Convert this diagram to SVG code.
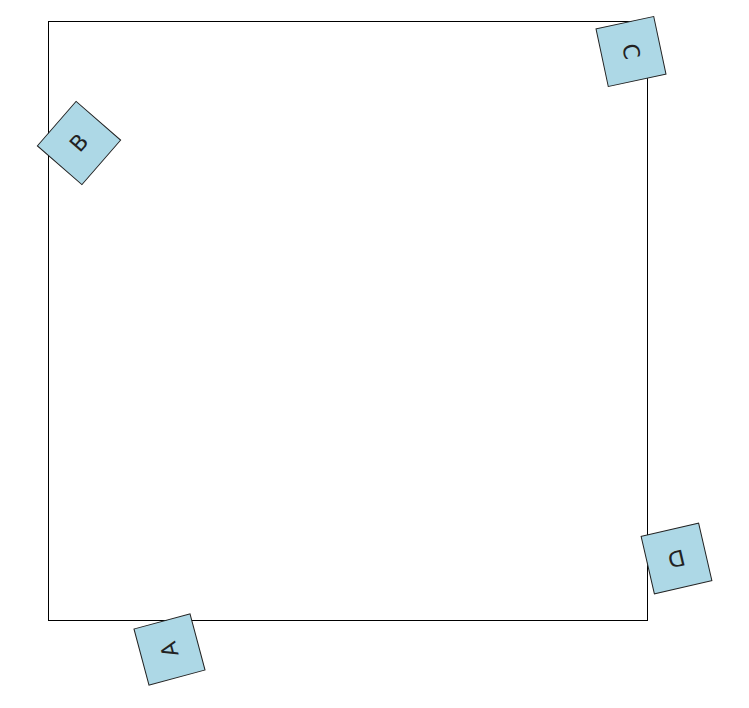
<svg xmlns="http://www.w3.org/2000/svg" width="749" height="708" viewBox="0 0 749 708">
<style>
.frame{fill:none;stroke:#000;stroke-width:1}
.box{fill:#add8e6;stroke:#222;stroke-width:1}
.lbl{font-family:"DejaVu Sans","Liberation Sans",sans-serif;font-size:22px;fill:#222;text-anchor:middle;dominant-baseline:central}
</style>
<rect width="749" height="708" fill="#fff"/>
<g id="connectors">
<rect class="frame" x="48.5" y="21.5" width="599" height="599"/>
</g>
<g id="A" transform="translate(169.5,649.5) rotate(-15)">
<rect class="box" x="-29" y="-29" width="58" height="58"/>
<text class="lbl" transform="rotate(-90)">A</text>
</g>
<g id="B" transform="translate(79,143) rotate(41)">
<rect class="box" x="-29.5" y="-29.5" width="59" height="59"/>
<text class="lbl" transform="rotate(-90)">B</text>
</g>
<g id="C" transform="translate(631,51.5) rotate(-12)">
<rect class="box" x="-29.5" y="-29.5" width="59" height="59"/>
<text class="lbl" transform="rotate(90)">C</text>
</g>
<g id="D" transform="translate(676.5,558.5) rotate(-13)">
<rect class="box" x="-29.5" y="-29.5" width="59" height="59"/>
<text class="lbl" transform="rotate(180)">D</text>
</g>
</svg>
